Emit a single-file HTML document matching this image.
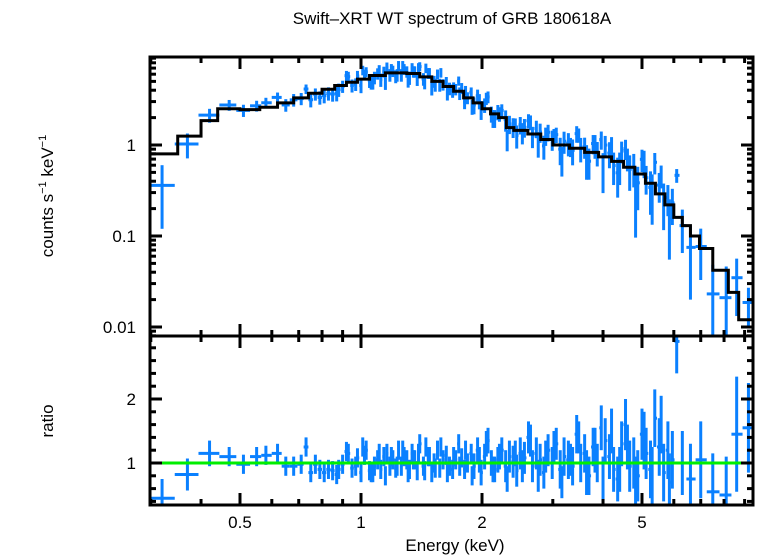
<!DOCTYPE html>
<html><head><meta charset="utf-8"><style>
body{margin:0;background:#fff}
svg{display:block;font-family:"Liberation Sans",sans-serif}
</style></head><body>
<svg id="chart" width="758" height="556" viewBox="0 0 758 556" xmlns="http://www.w3.org/2000/svg">
<text x="452" y="24" font-size="17" text-anchor="middle">Swift–XRT WT spectrum of GRB 180618A</text>
<text transform="translate(53,196) rotate(-90)" font-size="17" text-anchor="middle">counts s<tspan font-size="11" dy="-7">−1</tspan><tspan dy="7"> keV</tspan><tspan font-size="11" dy="-7">−1</tspan></text>
<text transform="translate(53,421) rotate(-90)" font-size="17" text-anchor="middle">ratio</text>
<text x="455" y="551" font-size="17" text-anchor="middle">Energy (keV)</text>
<g id="g"></g>
</svg>
<script>
const energies=[0.32,0.37,0.42,0.47,0.51,0.55,0.58,0.62,0.65,0.68,0.71,0.73,0.75,0.77,0.79,0.81,0.83,0.85,0.87,0.88,0.90,0.92,0.93,0.95,0.97,0.98,1.00,1.02,1.03,1.05,1.07,1.08,1.10,1.12,1.14,1.16,1.18,1.20,1.22,1.24,1.26,1.28,1.30,1.32,1.34,1.36,1.38,1.40,1.43,1.45,1.47,1.50,1.52,1.55,1.57,1.60,1.63,1.66,1.69,1.72,1.75,1.78,1.81,1.84,1.88,1.91,1.95,1.99,2.03,2.07,2.11,2.15,2.19,2.24,2.29,2.34,2.39,2.44,2.49,2.55,2.61,2.67,2.73,2.79,2.85,2.92,2.99,3.06,3.13,3.20,3.28,3.36,3.44,3.52,3.60,3.69,3.78,3.87,3.96,4.05,4.15,4.25,4.35,4.45,4.55,4.66,4.77,4.88,5.00,5.12,5.25,5.38,5.52,5.66,5.80,5.95,6.10,6.30,6.60,7.00,7.50,8.10,8.60,9.20];
const ratios=[0.45,0.82,1.15,1.10,0.98,1.10,1.12,1.15,0.95,0.95,0.98,1.25,0.85,0.98,0.90,0.85,0.90,0.88,0.82,0.90,0.98,1.18,1.15,0.92,0.95,1.08,0.85,1.12,1.20,0.88,0.85,0.95,1.05,0.90,1.10,1.15,0.95,1.05,0.92,1.20,0.95,1.10,1.05,0.90,1.15,1.05,0.88,1.30,0.95,1.25,1.10,0.85,1.00,1.20,0.92,1.05,1.12,0.95,0.90,1.05,1.30,1.08,0.90,1.00,1.15,0.95,1.20,0.85,1.10,1.35,1.00,0.90,1.05,1.20,0.95,1.10,1.02,0.88,1.15,1.08,1.40,0.95,1.15,1.05,0.85,1.20,1.00,1.30,0.90,1.10,1.05,0.95,1.45,1.00,1.15,0.80,1.25,1.00,1.55,1.35,1.10,0.90,0.75,1.30,1.60,0.95,1.00,0.80,1.45,1.15,0.90,1.70,1.25,0.85,1.20,1.05,2.90,1.00,0.75,1.05,0.55,0.50,1.45,1.55];
const ratioErr=[0.3,0.25,0.2,0.15,0.15,0.15,0.15,0.15,0.15,0.15,0.15,0.15,0.15,0.15,0.15,0.15,0.15,0.15,0.15,0.15,0.15,0.15,0.15,0.15,0.15,0.15,0.15,0.15,0.15,0.15,0.15,0.15,0.15,0.15,0.15,0.15,0.15,0.15,0.15,0.15,0.15,0.15,0.15,0.15,0.15,0.15,0.15,0.15,0.15,0.15,0.15,0.15,0.15,0.15,0.15,0.15,0.15,0.15,0.15,0.15,0.15,0.15,0.15,0.15,0.15,0.2,0.2,0.2,0.2,0.2,0.2,0.2,0.2,0.2,0.25,0.25,0.25,0.25,0.25,0.25,0.25,0.25,0.25,0.25,0.25,0.25,0.25,0.25,0.3,0.3,0.3,0.3,0.3,0.3,0.3,0.3,0.3,0.3,0.35,0.35,0.35,0.35,0.35,0.35,0.4,0.4,0.4,0.4,0.4,0.4,0.45,0.45,0.45,0.45,0.45,0.45,0.5,0.5,0.55,0.6,0.6,0.6,0.9,0.7];
const energies2=[1.01,1.06,1.11,1.15,1.19,1.23,1.27,1.31,1.35,1.39,1.44,1.48,1.53,1.58,1.64,1.70,1.76,1.82,1.89,1.97,2.05,2.13,2.21,2.31,2.42,2.52,2.64,2.76,2.88,3.02,3.16,3.32,3.48,3.64,3.82,4.00,4.20,4.40,4.60,4.82,5.06,5.30,5.58,5.85];
const ratios2=[1.25,0.85,1.15,0.80,1.10,0.95,1.20,0.85,1.05,1.15,0.88,1.10,0.92,1.25,0.85,1.10,0.95,1.20,0.80,1.05,1.30,0.90,1.10,0.75,1.15,0.95,1.35,0.80,1.10,1.25,0.70,1.05,1.40,0.85,1.20,0.75,1.50,0.90,1.25,0.65,1.35,0.80,1.60,0.70];
const ratioErr2=[0.15,0.15,0.15,0.15,0.15,0.15,0.15,0.15,0.15,0.15,0.15,0.15,0.15,0.15,0.15,0.15,0.15,0.15,0.15,0.2,0.2,0.2,0.2,0.2,0.2,0.25,0.25,0.25,0.25,0.25,0.25,0.25,0.25,0.35,0.35,0.35,0.35,0.35,0.35,0.45,0.45,0.45,0.45,0.45];
const modelEdges=[0.30,0.35,0.40,0.44,0.50,0.56,0.62,0.68,0.74,0.80,0.86,0.92,0.98,1.05,1.15,1.30,1.40,1.50,1.60,1.70,1.80,1.90,2.00,2.10,2.20,2.30,2.40,2.60,2.80,3.00,3.30,3.60,3.90,4.20,4.50,4.80,5.10,5.40,5.70,6.00,6.30,6.60,6.95,7.50,8.20,8.70,9.45];
const modelValues=[0.8,1.25,1.85,2.5,2.45,2.6,2.9,3.3,3.7,4.1,4.5,4.9,5.3,5.8,6.2,6.1,5.6,5.0,4.4,3.9,3.3,2.9,2.5,2.2,2.0,1.55,1.45,1.32,1.15,1.0,0.92,0.83,0.74,0.66,0.57,0.48,0.38,0.29,0.22,0.16,0.13,0.10,0.073,0.042,0.024,0.012];
const xMajor=[0.5,1,2,5];
const xMinor=[0.3,0.4,0.6,0.7,0.8,0.9,3,4,6,7,8,9];
const yMajor=[0.01,0.1,1];
const rMajor=[1,2];

const NS="http://www.w3.org/2000/svg",G=document.getElementById('g');
const L=150,R=753,T1=57,B1=336,T2=336,B2=505;
const X=e=>361+402*Math.log10(e);
const Y=v=>145-91*Math.log10(v);
const YR=r=>463-64*(r-1);
function el(t,a){const n=document.createElementNS(NS,t);for(const k in a)n.setAttribute(k,a[k]);G.appendChild(n);return n;}
function ln(x1,y1,x2,y2,c,w){return el('line',{x1,y1,x2,y2,stroke:c,'stroke-width':w});}
function modelAt(e){for(let i=0;i<modelValues.length;i++){if(e<modelEdges[i+1])return modelValues[i];}return modelValues[modelValues.length-1];}

const cp=el('clipPath',{id:'c1'});const r1=document.createElementNS(NS,'rect');cp.appendChild(r1);
r1.setAttribute('x',L);r1.setAttribute('y',T1);r1.setAttribute('width',R-L);r1.setAttribute('height',B1-T1);
const cp2=el('clipPath',{id:'c2'});const r2=document.createElementNS(NS,'rect');cp2.appendChild(r2);
r2.setAttribute('x',L);r2.setAttribute('y',T2);r2.setAttribute('width',R-L);r2.setAttribute('height',B2-T2);

const pts=[];
for(let i=0;i<Math.min(energies.length,ratios.length,ratioErr.length);i++)pts.push([energies[i],ratios[i],ratioErr[i]]);
for(let i=0;i<Math.min(energies2.length,ratios2.length,ratioErr2.length);i++)pts.push([energies2[i],ratios2[i],ratioErr2[i]]);
pts.sort((a,b)=>a[0]-b[0]);
const n=pts.length;
const gu=el('g',{'clip-path':'url(#c1)'});
const gl=el('g',{'clip-path':'url(#c2)'});
for(let i=0;i<n;i++){
  const [e,r,er]=pts[i];
  const lo=i>0?Math.sqrt(e*pts[i-1][0]):e*e/Math.sqrt(e*pts[i+1][0]);
  const hi=i<n-1?Math.sqrt(e*pts[i+1][0]):e*e/lo;
  const m=modelAt(e);
  const f=m*r,fe=m*er;
  const sets=[[gu,Y(f),Y(Math.max(f-fe,1e-4)),Y(f+fe)],[gl,YR(r),YR(r-er),YR(r+er)]];
  for(const [g,yc,y1,y2] of sets){
    const h=document.createElementNS(NS,'line');
    
    
    h.setAttribute('x1',X(lo));h.setAttribute('x2',X(hi));h.setAttribute('y1',yc);h.setAttribute('y2',yc);
    h.setAttribute('stroke','#0a80ff');h.setAttribute('stroke-width',3);g.appendChild(h);
    const v=document.createElementNS(NS,'line');
    
    
    v.setAttribute('x1',X(e));v.setAttribute('x2',X(e));v.setAttribute('y1',y1);v.setAttribute('y2',y2);
    v.setAttribute('stroke','#0a80ff');v.setAttribute('stroke-width',3);g.appendChild(v);
  }
}
let d='';
for(let i=0;i<modelValues.length;i++){
  const y=Y(modelValues[i]);
  d+=(i?'L':'M')+X(modelEdges[i])+','+y+'L'+X(modelEdges[i+1])+','+y;
}
const mp=el('path',{d,fill:'none',stroke:'#000','stroke-width':3,'clip-path':'url(#c1)'});


const gr=ln(L,YR(1),R,YR(1),'#00ee00',3);



const f1=el('rect',{x:L,y:T1,width:R-L,height:B1-T1,fill:'none',stroke:'#000','stroke-width':3});


const f2=el('rect',{x:L,y:T2,width:R-L,height:B2-T2,fill:'none',stroke:'#000','stroke-width':3});



for(const [T,B] of [[T1,B1],[T2,B2]]){
  for(const v of xMajor){const x=X(v);ln(x,T,x,T+12,'#000',3);ln(x,B,x,B-12,'#000',3);}
  for(const v of xMinor){const x=X(v);ln(x,T,x,T+6,'#000',3);ln(x,B,x,B-6,'#000',3);}
}
for(const v of xMajor){
  const t=el('text',{x:X(v),y:528,'font-size':17,'text-anchor':'middle'});
  
  
  t.textContent=String(v);
}
for(let dec=0.001;dec<10;dec*=10){
  for(let k=1;k<10;k++){
    const v=dec*k,y=Y(v);if(y<T1||y>B1)continue;
    const len=k===1?12:6;ln(L,y,L+len,y,'#000',3);ln(R,y,R-len,y,'#000',3);
  }
}
for(const v of yMajor){
  const t=el('text',{x:136,y:Y(v)+6,'font-size':17,'text-anchor':'end'});
  
  
  t.textContent=String(v);
}
for(let k=2;k<=14;k++){
  const v=k/5,y=YR(v);if(y<T2||y>B2)continue;
  const len=(k%5===0)?12:6;ln(L,y,L+len,y,'#000',3);ln(R,y,R-len,y,'#000',3);
}
for(const v of rMajor){
  const t=el('text',{x:136,y:YR(v)+6,'font-size':17,'text-anchor':'end'});
  
  
  t.textContent=String(v);
}
</script>
</body></html>
